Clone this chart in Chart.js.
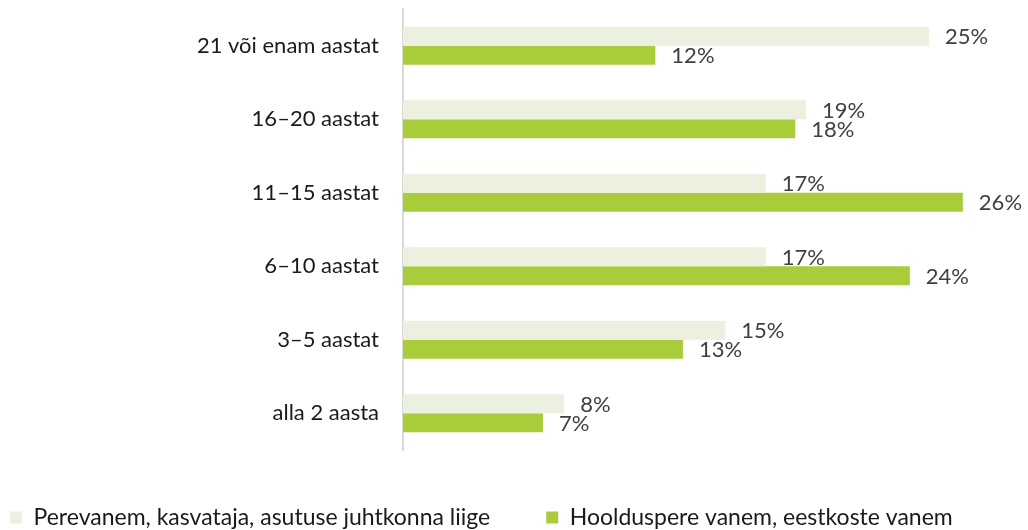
<!DOCTYPE html>
<html>
<head>
<meta charset="utf-8">
<script src="https://cdn.jsdelivr.net/npm/chart.js@4/dist/chart.umd.min.js"></script>
<style>
  html, body { margin: 0; padding: 0; background: #ffffff; }
  #wrap { width: 1028px; height: 530px; position: relative; }
</style>
</head>
<body>
<div id="wrap"><canvas id="c"></canvas></div>
<script>
const categories = ["21 või enam aastat", "16–20 aastat", "11–15 aastat", "6–10 aastat", "3–5 aastat", "alla 2 aasta"];
const seriesNames = ["Perevanem, kasvataja, asutuse juhtkonna liige", "Hoolduspere vanem, eestkoste vanem"];
const staffValues = [24.8, 19.0, 17.1, 17.1, 15.2, 7.6];
const fosterValues = [11.9, 18.5, 26.4, 23.9, 13.2, 6.6];
const staffLabels = ["25%", "19%", "17%", "17%", "15%", "8%"];
const fosterLabels = ["12%", "18%", "26%", "24%", "13%", "7%"];

const FONT = "Lato";

const valueLabels = {
  id: 'valueLabels',
  afterDatasetsDraw(chart) {
    const ctx = chart.ctx;
    const lbls = [staffLabels, fosterLabels];
    ctx.save();
    ctx.font = "22px " + FONT;
    ctx.fillStyle = "#404040";
    ctx.textAlign = "left";
    ctx.textBaseline = "middle";
    chart.data.datasets.forEach((ds, di) => {
      const meta = chart.getDatasetMeta(di);
      meta.data.forEach((bar, i) => {
        ctx.fillText(lbls[di][i], bar.x + 16, bar.y + 1);
      });
    });
    ctx.restore();
  }
};

new Chart(document.getElementById('c'), {
  type: 'bar',
  data: {
    labels: categories,
    datasets: [
      { label: seriesNames[0], data: staffValues, backgroundColor: "#EBF1DE", categoryPercentage: 0.52, barPercentage: 1.0, clip: false },
      { label: seriesNames[1], data: fosterValues, backgroundColor: "#A9CC3B", categoryPercentage: 0.52, barPercentage: 1.0, clip: false }
    ]
  },
  options: {
    indexAxis: 'y',
    responsive: true,
    maintainAspectRatio: false,
    animation: false,
    layout: { padding: { left: -46, right: 10, top: 9, bottom: -9 } },
    plugins: {
      legend: {
        position: 'bottom',
        align: 'start',
        labels: {
          boxWidth: 12,
          boxHeight: 12,
          padding: 56,
          color: "#1a1a1a",
          font: { family: FONT, size: 23 }
        }
      },
      tooltip: { enabled: false }
    },
    scales: {
      x: {
        display: false,
        min: 0,
        max: 29
      },
      y: {
        afterFit(scale) { scale.width = 449; scale.paddingTop = 0; scale.paddingBottom = 0; },
        grid: { display: false, drawTicks: false },
        border: { display: true, color: "#D9D9D9", width: 2 },
        ticks: {
          padding: 24,
          color: "#1a1a1a",
          font: { family: FONT, size: 22 }
        }
      }
    }
  },
  plugins: [valueLabels]
});
</script>
</body>
</html>
